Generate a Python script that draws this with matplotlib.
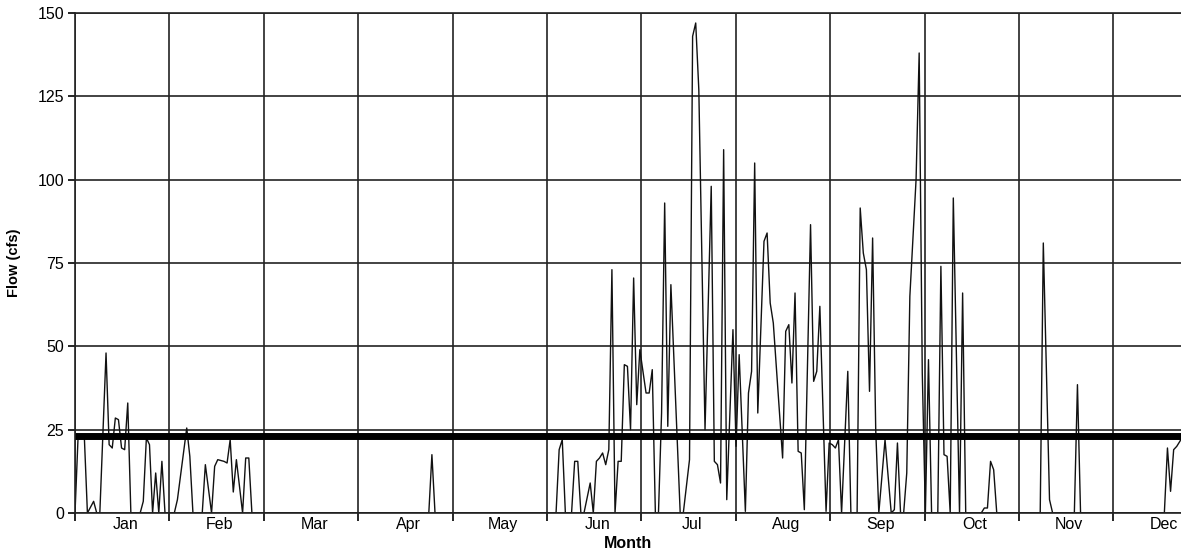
import matplotlib.pyplot as plt
import numpy as np

plt.rcParams['font.family'] = ['Liberation Sans', 'DejaVu Sans']

months = ['Jan', 'Feb', 'Mar', 'Apr', 'May', 'Jun',
          'Jul', 'Aug', 'Sep', 'Oct', 'Nov', 'Dec']
month_len = 365 / 12

# daily flow, day of year -> cfs (days not listed lie on the straight line between neighbours)
days = [0, 1, 3, 4, 6, 7, 8, 10, 11, 12, 13, 14, 15, 16, 17, 18, 21, 22, 23, 24, 25, 26, 27, 28, 29,
        32, 33, 36, 37, 38, 41, 42, 44, 45, 46, 48, 49, 50, 51, 52, 54, 55, 56, 57,
        114, 115, 116,
        155, 156, 157, 158, 160, 161, 162, 163, 164, 166, 167, 168, 169, 170, 171, 172, 173, 174,
        175, 176, 177, 178, 179, 180, 181, 182, 184, 185, 186, 187, 188, 189, 190, 191, 192, 195,
        196, 198, 199, 200, 201, 203, 205, 206, 207, 208, 209, 210, 212, 213, 214, 216, 217, 218,
        219, 220, 222, 223, 224, 225, 228, 229, 230, 231, 232, 233, 234, 235, 237, 238, 239, 240,
        242, 243, 244, 245, 246, 247, 249, 250, 252, 253, 254, 255, 256, 257, 258, 259, 261, 263,
        264, 265, 266, 267, 268, 269, 271, 272, 273, 274, 275, 276, 278, 279, 280, 281, 282, 283,
        285, 286, 287, 292, 293, 294, 295, 296, 297,
        311, 312, 314, 315, 322, 323, 324,
        351, 352, 353, 354, 355, 356, 357]
flow = [0, 23, 23, 0, 3.5, 0, 0, 48, 20.5, 19.5, 28.5, 28, 19.5, 19, 33, 0, 0, 3.5, 22.5, 20.5, 0, 12, 0, 15.5, 0,
        0, 4, 25.5, 17, 0, 0, 14.5, 0, 14, 16, 15.5, 15, 22, 6.3, 16, 0, 16.5, 16.5, 0,
        0, 17.5, 0,
        0, 19, 22, 0, 0, 15.5, 15.5, 0, 0, 9, 0, 15.5, 16.5, 18, 14.5, 19, 73, 0,
        15.5, 15.5, 44.5, 44, 25, 70.5, 32.5, 49, 36, 36, 43, 0, 0, 30, 93, 26, 68.5, 0,
        0, 16, 143, 147, 127, 25, 98, 15.5, 14.5, 9, 109, 4, 55, 20, 47.5, 0.5, 36, 42.5,
        105, 30, 81.5, 84, 63, 57, 16.5, 54.5, 56.5, 39, 66, 18.5, 18, 1, 86.5, 39.5, 42.5, 62,
        0.5, 21, 20.5, 19.5, 22, 0, 42.5, 0, 0, 91.5, 78, 73, 36.5, 82.5, 25, 0, 22, 0,
        1, 21, 0, 0, 12, 65, 100, 138, 42, 0, 46, 0, 0, 74, 17.5, 17, 0, 94.5,
        0, 66, 0, 0, 1.5, 1.5, 15.5, 13, 0,
        0, 81, 4, 0, 0, 38.5, 0,
        0, 19.5, 6.5, 19, 20, 21.5, 23]
threshold = 23.1

fig = plt.figure(figsize=(11.81, 5.54), dpi=100)
ax = fig.add_axes([75 / 1181, 41 / 554, 1 - 75 / 1181, 500 / 554])
ax.set_axisbelow(True)

ax.plot(days, flow, color='#111111', lw=1.0)
ax.axhline(threshold, color='black', lw=5.0)

ax.set_xlim(0, (1181 - 75) / 94.4 * month_len)
ax.set_ylim(0, 150)
ax.set_yticks(range(0, 151, 25))

edges = np.arange(12) * month_len
ax.set_xticks(edges)
ax.set_xticklabels([])
ax.set_xticks(edges + month_len / 2 + 1, minor=True)
ax.set_xticklabels(months, minor=True)
ax.tick_params(axis='x', which='major', length=6, width=1.2, direction='out')
ax.tick_params(axis='x', which='minor', length=0, pad=3, labelsize=11.5)
ax.tick_params(axis='y', length=5, width=1.2, pad=3, labelsize=11.5)

ax.grid(True, which='major', color='#222222', lw=1.2)
for side in ['left', 'bottom', 'top']:
    ax.spines[side].set_linewidth(1.2)
    ax.spines[side].set_color('#222222')
ax.spines['right'].set_visible(False)

ax.set_ylabel('Flow (cfs)', fontweight='bold', fontsize=10.5, labelpad=12)
ax.set_xlabel('Month', fontweight='bold', fontsize=11.5, labelpad=3)

fig.savefig('out.png', dpi=100)
